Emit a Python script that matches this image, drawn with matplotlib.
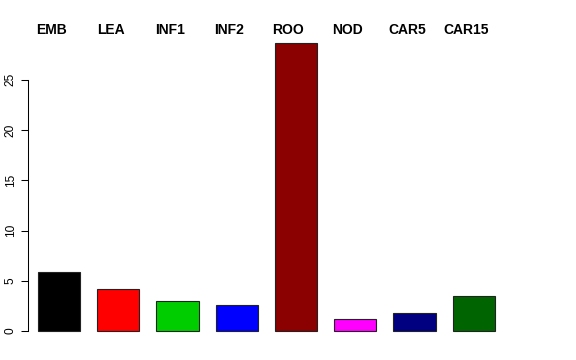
import matplotlib
matplotlib.use('Agg')
import matplotlib.pyplot as plt

# datos
tejidos = ['EMB', 'LEA', 'INF1', 'INF2', 'ROO', 'NOD', 'CAR5', 'CAR15']
valores = [5.85, 4.15, 3.02, 2.59, 28.7, 1.16, 1.79, 3.49]
colores = ['black', 'red', '#00CD00', 'blue', '#8B0000', 'magenta', '#000080', '#006400']

plt.rcParams['font.family'] = ['Liberation Sans', 'DejaVu Sans']

fig = plt.figure(figsize=(5.76, 3.6), dpi=100)
W, H = 576, 360
# region del grafico en pixeles (izq, arriba, der, abajo)
izq, arr, der, aba = 28, 31, 504, 342.6
ax = fig.add_axes([izq / W, 1 - aba / H, (der - izq) / W, (aba - arr) / H])

pos = list(range(len(tejidos)))
ax.bar(pos, valores, width=0.71, color=colores, edgecolor='#222222', linewidth=0.8)

ax.set_xlim(-0.523, 7.51)
ax.set_ylim(-1.15, 29.85)

# etiquetas arriba de cada barra
for p, t in zip(pos, tejidos):
    ax.text(p - 0.13, 29.9, t, ha='center', va='center', fontsize=10,
            fontweight='bold', clip_on=False)

ax.set_xticks([])
ax.set_yticks([0, 5, 10, 15, 20, 25])
ax.tick_params(axis='y', length=5, width=0.75, labelsize=8.6, pad=3)
for lbl in ax.get_yticklabels():
    lbl.set_rotation(90)
    lbl.set_va('center')
for s in ['top', 'right', 'bottom']:
    ax.spines[s].set_visible(False)
ax.spines['left'].set_bounds(0, 25)
ax.spines['left'].set_linewidth(0.75)

fig.savefig('out.png', dpi=100)
